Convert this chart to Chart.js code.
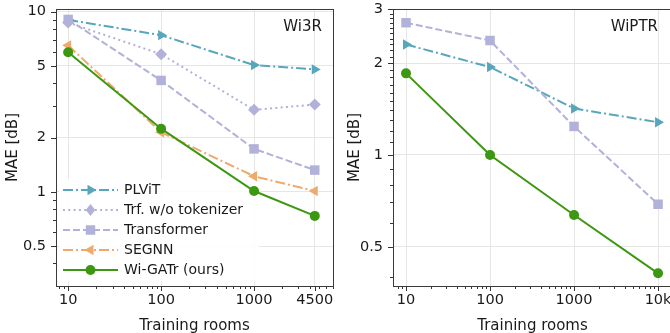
<!DOCTYPE html>
<html>
<head>
<meta charset="utf-8">
<script src="https://cdn.jsdelivr.net/npm/chart.js@4.4.1/dist/chart.umd.min.js"></script>
<style>
html, body { margin: 0; padding: 0; background: #fff; overflow: hidden; width: 670px; height: 333px; }
.panel { position: absolute; top: 0; height: 350px; }
#p1 { left: 0; width: 340px; }
#p2 { left: 335px; width: 345px; }
</style>
</head>
<body>
<div class="panel" id="p1"><canvas id="wi3r"></canvas></div>
<div class="panel" id="p2"><canvas id="wiptr"></canvas></div>
<script>
// Wi3R panel
const rooms3R = [10, 100, 1000, 4500];
const plvit3R = [9.0, 7.4, 5.05, 4.78];
const trfNoTok3R = [8.7, 5.8, 2.85, 3.05];
const transformer3R = [9.05, 4.15, 1.73, 1.32];
const segnn3R = [6.5, 2.14, 1.22, 1.01];
const wigatr3R = [5.95, 2.24, 1.01, 0.735];

// WiPTR panel
const roomsPTR = [10, 100, 1000, 10000];
const plvitPTR = [2.30, 1.94, 1.42, 1.28];
const transformerPTR = [2.71, 2.37, 1.24, 0.69];
const wigatrPTR = [1.85, 1.0, 0.636, 0.41];

// tick labels
const xMajor3R = [10, 100, 1000, 4500];
const xLabels3R = ['10', '100', '1000', '4500'];
const xMinor3R = [8, 9, 20, 30, 40, 50, 60, 70, 80, 90, 200, 300, 400, 500, 600, 700, 800, 900, 2000, 3000, 4000, 5000, 6000, 7000];
const yMajor3R = [0.5, 1, 2, 5, 10];
const yLabels3R = ['0.5', '1', '2', '5', '10'];
const yMinor3R = [0.4, 0.6, 0.7, 0.8, 0.9, 3, 4, 6, 7, 8, 9];

const xMajorPTR = [10, 100, 1000, 10000];
const xLabelsPTR = ['10', '100', '1000', '10k'];
const xMinorPTR = [8, 9, 20, 30, 40, 50, 60, 70, 80, 90, 200, 300, 400, 500, 600, 700, 800, 900, 2000, 3000, 4000, 5000, 6000, 7000, 8000, 9000];
const yMajorPTR = [0.5, 1, 2, 3];
const yLabelsPTR = ['0.5', '1', '2', '3'];
const yMinorPTR = [0.4, 0.6, 0.7, 0.8, 0.9, 1.1, 1.2, 1.3, 1.4, 1.5, 1.6, 1.7, 1.8, 1.9, 2.1, 2.2, 2.3, 2.4, 2.5, 2.6, 2.7, 2.8, 2.9];

const FONT = 'DejaVu Sans';
const TEXT = '#1a1a1a';
const TEAL = '#58a6bc';
const LAV = '#b2b1d9';
const ORANGE = '#eeaa6c';
const GREEN = '#3d9712';

const styles = {
    'PLViT': { color: TEAL, dash: [10, 3, 2, 3], marker: 'triangle', rot: 90, r: 6 },
    'Trf. w/o tokenizer': { color: LAV, dash: [2, 3.3], marker: 'rectRot', r: 6 },
    'Transformer': { color: LAV, dash: [7, 3], marker: 'rect', r: 6.7 },
    'SEGNN': { color: ORANGE, dash: [10, 3, 2, 3], marker: 'triangle', rot: -90, r: 6 },
    'Wi-GATr (ours)': { color: GREEN, dash: [], marker: 'circle', r: 5 }
};

function drawMarker(ctx, st, x, y) {
    ctx.save();
    ctx.fillStyle = st.color;
    ctx.translate(x, y);
    ctx.rotate((st.rot || 0) * Math.PI / 180);
    ctx.beginPath();
    const r = st.r;
    if (st.marker === 'circle') {
        ctx.arc(0, 0, r, 0, Math.PI * 2);
    } else if (st.marker === 'rect') {
        const s = r * Math.SQRT1_2;
        ctx.rect(-s, -s, 2 * s, 2 * s);
    } else if (st.marker === 'rectRot') {
        ctx.moveTo(0, -r); ctx.lineTo(r * 0.8, 0); ctx.lineTo(0, r); ctx.lineTo(-r * 0.8, 0); ctx.closePath();
    } else if (st.marker === 'triangle') {
        ctx.moveTo(0, -r); ctx.lineTo(r * 0.866, r * 0.5); ctx.lineTo(-r * 0.866, r * 0.5); ctx.closePath();
    }
    ctx.fill();
    ctx.restore();
}

// frame, tick marks, panel name and legend
function makeFrame(p) {
    return {
        id: 'frame',
        beforeDatasetsDraw(chart) {
            // legend backdrop hides the grid but sits under the lines
            if (!p.legend) return;
            const ctx = chart.ctx, a = chart.chartArea;
            ctx.save();
            ctx.fillStyle = 'rgba(255,255,255,0.85)';
            ctx.fillRect(a.left + 3, 179, 200, 102);
            ctx.restore();
        },
        afterDraw(chart) {
            const ctx = chart.ctx;
            const a = chart.chartArea;
            const sx = chart.scales.x, sy = chart.scales.y;
            ctx.save();
            ctx.setLineDash([]);
            ctx.strokeStyle = '#333';
            ctx.lineWidth = 1;
            const xt = p.xMajor.map(v => [v, 5]).concat(p.xMinor.map(v => [v, 3]));
            xt.forEach(([v, len]) => {
                const px = Math.round(sx.getPixelForValue(v)) + 0.5;
                ctx.beginPath(); ctx.moveTo(px, a.bottom); ctx.lineTo(px, a.bottom + len); ctx.stroke();
            });
            const yt = p.yMajor.map(v => [v, 5]).concat(p.yMinor.map(v => [v, 3]));
            yt.forEach(([v, len]) => {
                const py = Math.round(sy.getPixelForValue(v)) + 0.5;
                ctx.beginPath(); ctx.moveTo(a.left, py); ctx.lineTo(a.left - len, py); ctx.stroke();
            });
            ctx.strokeStyle = '#3a3a3a';
            ctx.strokeRect(Math.round(a.left) + 0.5, Math.round(a.top) + 0.5, Math.round(a.right - a.left), Math.round(a.bottom - a.top));

            ctx.fillStyle = TEXT;
            ctx.font = '15px "' + FONT + '"';
            ctx.textAlign = 'right';
            ctx.textBaseline = 'middle';
            ctx.fillText(p.name, a.right - p.nameInset, a.top + 18);

            if (p.legend) {
                ctx.font = '14px "' + FONT + '"';
                ctx.textAlign = 'left';
                chart.data.datasets.forEach((ds, i) => {
                    const st = styles[ds.label];
                    const y = 190 + i * 20;
                    const x0 = a.left + 7, x1 = a.left + 62;
                    ctx.strokeStyle = st.color;
                    ctx.lineWidth = 2;
                    ctx.setLineDash(st.dash);
                    ctx.beginPath(); ctx.moveTo(x0, y); ctx.lineTo(x1, y); ctx.stroke();
                    ctx.setLineDash([]);
                    drawMarker(ctx, st, (x0 + x1) / 2, y);
                    ctx.fillStyle = TEXT;
                    ctx.fillText(ds.label, a.left + 68, y);
                });
            }
            ctx.restore();
        }
    };
}

function tickList(major, minor) {
    return major.map(v => ({ value: v, major: true }))
        .concat(minor.map(v => ({ value: v, major: false })))
        .sort((m, n) => m.value - n.value);
}

function labelFor(v, major, labels) {
    const i = major.findIndex(m => Math.abs(m - v) / m < 1e-6);
    return i >= 0 ? labels[i] : '';
}

function makeChart(id, p) {
    return new Chart(document.getElementById(id), {
        type: 'line',
        data: {
            datasets: p.series.map((s, i) => {
                const st = styles[s.label];
                return {
                    label: s.label,
                    data: p.x.map((x, j) => ({ x: x, y: s.values[j] })),
                    borderColor: st.color,
                    backgroundColor: st.color,
                    borderWidth: 2,
                    borderDash: st.dash,
                    pointStyle: st.marker,
                    pointRotation: st.rot || 0,
                    pointRadius: st.r,
                    pointBorderWidth: 0,
                    pointBackgroundColor: st.color,
                    tension: 0,
                    fill: false,
                    order: 10 - i
                };
            })
        },
        options: {
            responsive: true,
            maintainAspectRatio: false,
            animation: false,
            layout: { padding: { top: 9, right: p.padRight, left: 0, bottom: 0 } },
            plugins: {
                legend: { display: false },
                tooltip: { enabled: false }
            },
            scales: {
                x: {
                    type: 'logarithmic',
                    min: p.xMin,
                    max: p.xMax,
                    afterBuildTicks: sc => { sc.ticks = tickList(p.xMajor, p.xMinor); },
                    afterFit: sc => { sc.height = 64; sc.paddingLeft = 0; sc.paddingRight = 0; },
                    ticks: {
                        autoSkip: false,
                        maxRotation: 0,
                        padding: 6,
                        color: TEXT,
                        font: { family: FONT, size: 14.5 },
                        callback: v => labelFor(v, p.xMajor, p.xLabels)
                    },
                    grid: {
                        color: c => (c.tick && c.tick.major) ? '#e6e6e6' : 'rgba(0,0,0,0)',
                        drawTicks: false
                    },
                    border: { display: false },
                    title: {
                        display: true,
                        text: 'Training rooms',
                        color: TEXT,
                        font: { family: FONT, size: 15 },
                        padding: { top: 0, bottom: 15 }
                    }
                },
                y: {
                    type: 'logarithmic',
                    min: p.yMin,
                    max: p.yMax,
                    afterBuildTicks: sc => { sc.ticks = tickList(p.yMajor, p.yMinor); },
                    afterFit: sc => { sc.width = p.yWidth; sc.paddingTop = 0; sc.paddingBottom = 0; },
                    ticks: {
                        autoSkip: false,
                        padding: 10,
                        color: TEXT,
                        font: { family: FONT, size: 14.5 },
                        callback: v => labelFor(v, p.yMajor, p.yLabels)
                    },
                    grid: {
                        color: c => (c.tick && c.tick.major) ? '#e6e6e6' : 'rgba(0,0,0,0)',
                        drawTicks: false
                    },
                    border: { display: false },
                    title: {
                        display: true,
                        text: 'MAE [dB]',
                        color: TEXT,
                        font: { family: FONT, size: 15 },
                        padding: { top: p.yTitlePad, bottom: 0 }
                    }
                }
            }
        },
        plugins: [makeFrame(p)]
    });
}

makeChart('wi3r', {
    name: 'Wi3R', nameInset: 11, legend: true,
    x: rooms3R,
    series: [
        { label: 'PLViT', values: plvit3R },
        { label: 'Trf. w/o tokenizer', values: trfNoTok3R },
        { label: 'Transformer', values: transformer3R },
        { label: 'SEGNN', values: segnn3R },
        { label: 'Wi-GATr (ours)', values: wigatr3R }
    ],
    xMin: 7.4, xMax: 7070, yMin: 0.349, yMax: 10.34,
    xMajor: xMajor3R, xLabels: xLabels3R, xMinor: xMinor3R,
    yMajor: yMajor3R, yLabels: yLabels3R, yMinor: yMinor3R,
    padRight: 7, yWidth: 56, yTitlePad: 4
});

makeChart('wiptr', {
    name: 'WiPTR', nameInset: 14, legend: false,
    x: roomsPTR,
    series: [
        { label: 'PLViT', values: plvitPTR },
        { label: 'Transformer', values: transformerPTR },
        { label: 'Wi-GATr (ours)', values: wigatrPTR }
    ],
    xMin: 7.0, xMax: 14650, yMin: 0.3726, yMax: 3.005,
    xMajor: xMajorPTR, xLabels: xLabelsPTR, xMinor: xMinorPTR,
    yMajor: yMajorPTR, yLabels: yLabelsPTR, yMinor: yMinorPTR,
    padRight: 8, yWidth: 58, yTitlePad: 11
});
</script>
</body>
</html>
